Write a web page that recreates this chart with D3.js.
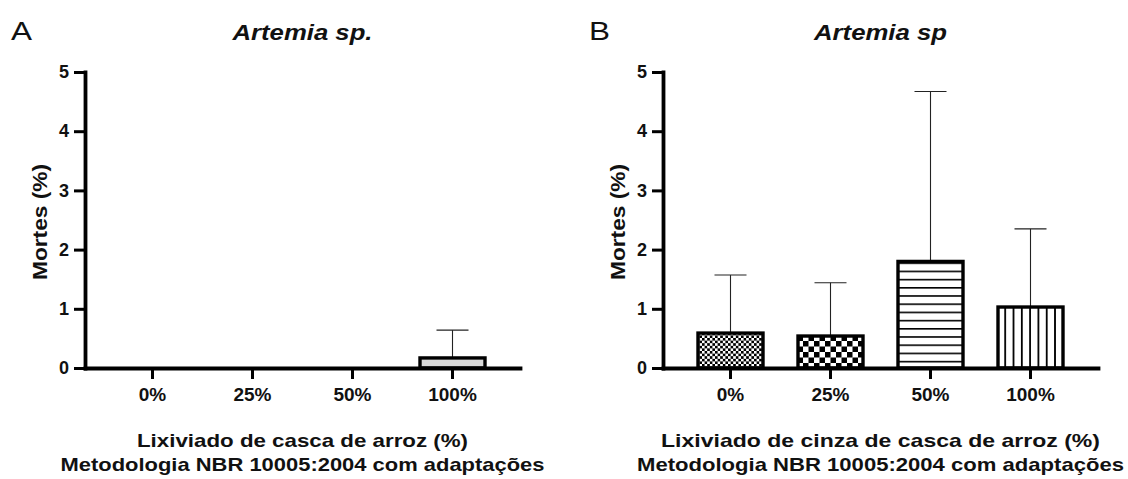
<!DOCTYPE html>
<html>
<head>
<meta charset="utf-8">
<script src="https://cdn.jsdelivr.net/npm/d3@7"></script>
<style>
  body { margin: 0; background: #fff; }
  text { font-family: "Liberation Sans", Arial, sans-serif; }
</style>
</head>
<body>
<svg id="chart" width="1128" height="479"></svg>
<script>
// values
var categories = ["0%", "25%", "50%", "100%"];
var yTicks = [0, 1, 2, 3, 4, 5];

var meanA = [0, 0, 0, 0.17];
var sdA = [0, 0, 0, 0.47];

var meanB = [0.59, 0.54, 1.80, 1.03];
var sdB = [0.98, 0.90, 2.87, 1.32];

var svg = d3.select("#chart");
var defs = svg.append("defs");

// fill patterns used by the bars of panel B
function checker(id, cell) {
  var p = defs.append("pattern").attr("id", id)
    .attr("patternUnits", "userSpaceOnUse")
    .attr("width", cell * 2).attr("height", cell * 2);
  p.append("rect").attr("width", cell * 2).attr("height", cell * 2).attr("fill", "#fff");
  p.append("rect").attr("width", cell).attr("height", cell).attr("fill", "#000");
  p.append("rect").attr("x", cell).attr("y", cell).attr("width", cell).attr("height", cell).attr("fill", "#000");
}
checker("fine", 2.6);
checker("coarse", 5.5);

var hp = defs.append("pattern").attr("id", "hlines")
  .attr("patternUnits", "userSpaceOnUse").attr("width", 8).attr("height", 8.2);
hp.append("rect").attr("width", 8).attr("height", 8.2).attr("fill", "#fff");
hp.append("rect").attr("y", 0).attr("width", 8).attr("height", 1.6).attr("fill", "#000");

var vp = defs.append("pattern").attr("id", "vlines")
  .attr("patternUnits", "userSpaceOnUse").attr("width", 8.3).attr("height", 8);
vp.append("rect").attr("width", 8.3).attr("height", 8).attr("fill", "#fff");
vp.append("rect").attr("x", 0).attr("width", 1.8).attr("height", 8).attr("fill", "#000");

var plotTop = 72, plotBottom = 368;

function drawPanel(cfg) {
  var x = d3.scaleBand().domain(categories).range([cfg.x0, cfg.x1])
    .paddingInner(0.35).paddingOuter(0.35);
  var y = d3.scaleLinear().domain([0, 5]).range([plotBottom, plotTop]);

  var g = svg.append("g");

  var data = categories.map(function (c, i) {
    return { cat: c, mean: cfg.mean[i], sd: cfg.sd[i], fill: cfg.fills[i] };
  });

  // error bars (upper only)
  var err = g.selectAll(".err").data(data.filter(function (d) { return d.sd > 0; }))
    .enter().append("g").attr("class", "err");
  err.append("line")
    .attr("x1", function (d) { return x(d.cat) + x.bandwidth() / 2; })
    .attr("x2", function (d) { return x(d.cat) + x.bandwidth() / 2; })
    .attr("y1", function (d) { return y(d.mean); })
    .attr("y2", function (d) { return y(d.mean + d.sd); })
    .attr("stroke", "#222").attr("stroke-width", 1.1);
  err.append("line")
    .attr("x1", function (d) { return x(d.cat) + x.bandwidth() / 2 - 16; })
    .attr("x2", function (d) { return x(d.cat) + x.bandwidth() / 2 + 16; })
    .attr("y1", function (d) { return y(d.mean + d.sd); })
    .attr("y2", function (d) { return y(d.mean + d.sd); })
    .attr("stroke", "#222").attr("stroke-width", 1.1);

  // bars
  g.selectAll(".bar").data(data.filter(function (d) { return d.mean > 0; }))
    .enter().append("rect")
    .attr("class", "bar")
    .attr("x", function (d) { return x(d.cat); })
    .attr("y", function (d) { return y(d.mean); })
    .attr("width", x.bandwidth())
    .attr("height", function (d) { return plotBottom - y(d.mean); })
    .attr("fill", function (d) { return d.fill; })
    .attr("stroke", "#000")
    .attr("stroke-width", 3.4);

  var yAxis = g.append("g")
    .attr("transform", "translate(" + cfg.x0 + ",0)")
    .call(d3.axisLeft(y).tickValues(yTicks).tickFormat(d3.format("d"))
      .tickSize(11).tickSizeOuter(0).tickPadding(5));

  var xAxis = g.append("g")
    .attr("transform", "translate(0," + plotBottom + ")")
    .call(d3.axisBottom(x).tickSize(11).tickSizeOuter(0).tickPadding(9));

  [yAxis, xAxis].forEach(function (ax) {
    ax.attr("font-family", "Liberation Sans, Arial, sans-serif")
      .attr("font-size", 19).attr("font-weight", "bold");
    ax.selectAll("text").attr("fill", "#111");
    ax.select(".domain").attr("stroke", "#000").attr("stroke-width", 3.8)
      .attr("stroke-linecap", "square");
    ax.selectAll(".tick line").attr("stroke", "#000").attr("stroke-width", 3);
  });
  yAxis.selectAll("text").attr("font-size", 18);

  var cx = (cfg.x0 + cfg.x1) / 2;

  g.append("text")
    .attr("x", cx).attr("y", 40)
    .attr("text-anchor", "middle")
    .attr("font-size", 22).attr("font-weight", "bold").attr("font-style", "italic")
    .attr("textLength", cfg.titleLen).attr("lengthAdjust", "spacingAndGlyphs")
    .attr("fill", "#111")
    .text(cfg.title);

  g.append("text")
    .attr("x", cfg.letterX).attr("y", 40)
    .attr("font-size", 26).attr("fill", "#111")
    .attr("textLength", 21).attr("lengthAdjust", "spacingAndGlyphs")
    .text(cfg.letter);

  g.append("text")
    .attr("transform", "translate(" + (cfg.x0 - 38) + ",222) rotate(-90)")
    .attr("text-anchor", "middle")
    .attr("font-size", 21).attr("font-weight", "bold").attr("fill", "#111")
    .attr("textLength", 116).attr("lengthAdjust", "spacingAndGlyphs")
    .text("Mortes (%)");

  cfg.xTitle.forEach(function (line, i) {
    g.append("text")
      .attr("x", cx).attr("y", 447 + i * 24)
      .attr("text-anchor", "middle")
      .attr("font-size", 19).attr("font-weight", "bold").attr("fill", "#111")
      .attr("textLength", cfg.xTitleLen[i]).attr("lengthAdjust", "spacingAndGlyphs")
      .text(line);
  });
}

drawPanel({
  x0: 85, x1: 520,
  mean: meanA, sd: sdA,
  fills: ["#d9d9d9", "#d9d9d9", "#d9d9d9", "#d9d9d9"],
  title: "Artemia sp.", titleLen: 140, letter: "A", letterX: 11,
  xTitle: ["Lixiviado de casca de arroz (%)", "Metodologia NBR 10005:2004 com adaptações"],
  xTitleLen: [331, 484]
});

drawPanel({
  x0: 663, x1: 1098,
  mean: meanB, sd: sdB,
  fills: ["url(#fine)", "url(#coarse)", "url(#hlines)", "url(#vlines)"],
  title: "Artemia sp", titleLen: 133, letter: "B", letterX: 589,
  xTitle: ["Lixiviado de cinza de casca de arroz (%)", "Metodologia NBR 10005:2004 com adaptações"],
  xTitleLen: [439, 487]
});
</script>
</body>
</html>
